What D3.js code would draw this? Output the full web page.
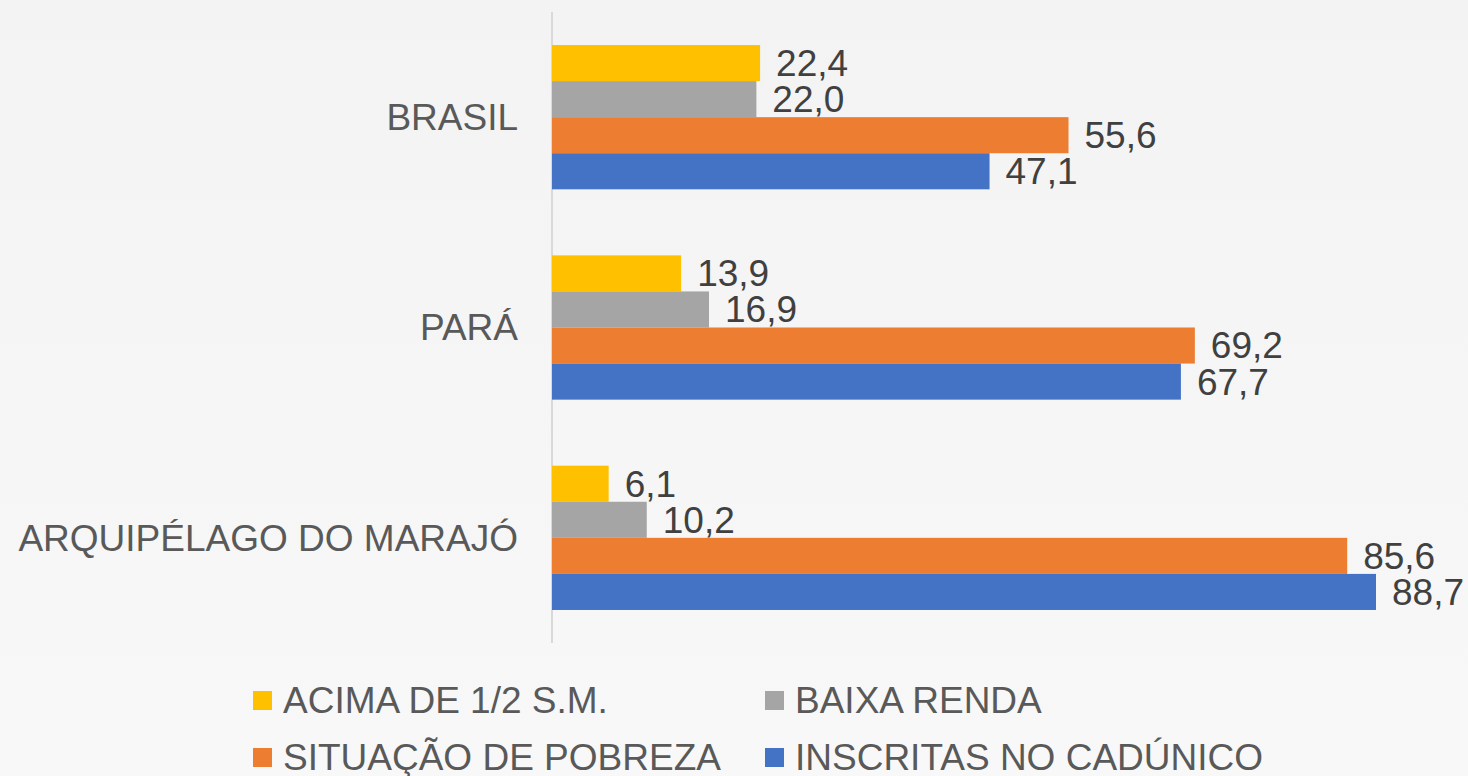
<!DOCTYPE html>
<html lang="pt">
  <head>
    <meta charset="UTF-8" />
    <title>Famílias por faixa de renda</title>
    <style>
      body {
        margin: 0;
        overflow: hidden;
        background: #f5f5f5;
      }
      svg {
        display: block;
        font-family: "Liberation Sans", Arial, sans-serif;
      }
      .cat-label {
        fill: #595959;
        font-size: 37px;
      }
      .value-label {
        fill: #404040;
        font-size: 37px;
      }
      .legend-label {
        fill: #595959;
        font-size: 37px;
      }
    </style>
  </head>
  <body>
    <svg id="chart"></svg>

    <script src="https://d3js.org/d3.v7.min.js"></script>
    <script>
      // dados
      const categories = ["BRASIL", "PARÁ", "ARQUIPÉLAGO DO MARAJÓ"];
      const seriesNames = [
        "ACIMA DE 1/2 S.M.",
        "BAIXA RENDA",
        "SITUAÇÃO DE POBREZA",
        "INSCRITAS NO CADÚNICO",
      ];
      const seriesColors = ["#FFC000", "#A5A5A5", "#ED7D31", "#4472C4"];
      const acimaMeioSM = [22.4, 13.9, 6.1];
      const baixaRenda = [22.0, 16.9, 10.2];
      const pobreza = [55.6, 69.2, 85.6];
      const cadunico = [47.1, 67.7, 88.7];
      const seriesValues = [acimaMeioSM, baixaRenda, pobreza, cadunico];

      const width = 1468;
      const height = 776;

      const svg = d3
        .select("#chart")
        .attr("width", width)
        .attr("height", height);

      // fundo com leve degradê
      const defs = svg.append("defs");
      const grad = defs
        .append("linearGradient")
        .attr("id", "bg")
        .attr("x1", 0)
        .attr("y1", 0)
        .attr("x2", 0)
        .attr("y2", 1);
      grad.append("stop").attr("offset", "0%").attr("stop-color", "#f3f3f3");
      grad.append("stop").attr("offset", "100%").attr("stop-color", "#f8f8f8");
      svg
        .append("rect")
        .attr("width", width)
        .attr("height", height)
        .attr("fill", "url(#bg)");

      // escalas
      const x = d3.scaleLinear().domain([0, 88.7]).range([552, 1376]);

      const y0 = d3
        .scaleBand()
        .domain(categories)
        .range([12, 643])
        .paddingInner(0.314)
        .paddingOuter(0.157);

      const y1 = d3
        .scaleBand()
        .domain(d3.range(seriesNames.length))
        .range([0, y0.bandwidth()]);

      // linha do eixo vertical
      svg
        .append("line")
        .attr("x1", x(0))
        .attr("x2", x(0))
        .attr("y1", 12)
        .attr("y2", 643)
        .attr("stroke", "#d9d9d9")
        .attr("stroke-width", 2);

      // rótulos das categorias
      svg
        .append("g")
        .selectAll("text")
        .data(categories)
        .join("text")
        .attr("class", "cat-label")
        .attr("x", 518)
        .attr("y", (d) => y0(d) + y0.bandwidth() / 2)
        .attr("dy", "0.35em")
        .attr("text-anchor", "end")
        .text((d) => d);

      // barras
      const rows = [];
      categories.forEach((c, ci) => {
        seriesValues.forEach((vals, si) => {
          rows.push({ cat: c, s: si, v: vals[ci] });
        });
      });

      const fmt = (v) => d3.format(".1f")(v).replace(".", ",");

      const bars = svg.append("g");
      bars
        .selectAll("rect")
        .data(rows)
        .join("rect")
        .attr("x", x(0))
        .attr("y", (d) => y0(d.cat) + y1(d.s))
        .attr("width", (d) => x(d.v) - x(0))
        .attr("height", y1.bandwidth())
        .attr("fill", (d) => seriesColors[d.s]);

      bars
        .selectAll("text")
        .data(rows)
        .join("text")
        .attr("class", "value-label")
        .attr("x", (d) => x(d.v) + 16)
        .attr("y", (d) => y0(d.cat) + y1(d.s) + y1.bandwidth() / 2)
        .attr("dy", "0.35em")
        .text((d) => fmt(d.v));

      // legenda
      const legendPos = [
        [253, 700],
        [765, 700],
        [253, 757],
        [765, 757],
      ];
      const legend = svg
        .append("g")
        .selectAll("g")
        .data(seriesNames)
        .join("g")
        .attr("transform", (d, i) => `translate(${legendPos[i][0]},${legendPos[i][1]})`);

      legend
        .append("rect")
        .attr("x", 0)
        .attr("y", -9)
        .attr("width", 19)
        .attr("height", 19)
        .attr("fill", (d, i) => seriesColors[i]);

      legend
        .append("text")
        .attr("class", "legend-label")
        .attr("x", 30)
        .attr("y", 0)
        .attr("dy", "0.35em")
        .text((d) => d);
    </script>
  </body>
</html>
